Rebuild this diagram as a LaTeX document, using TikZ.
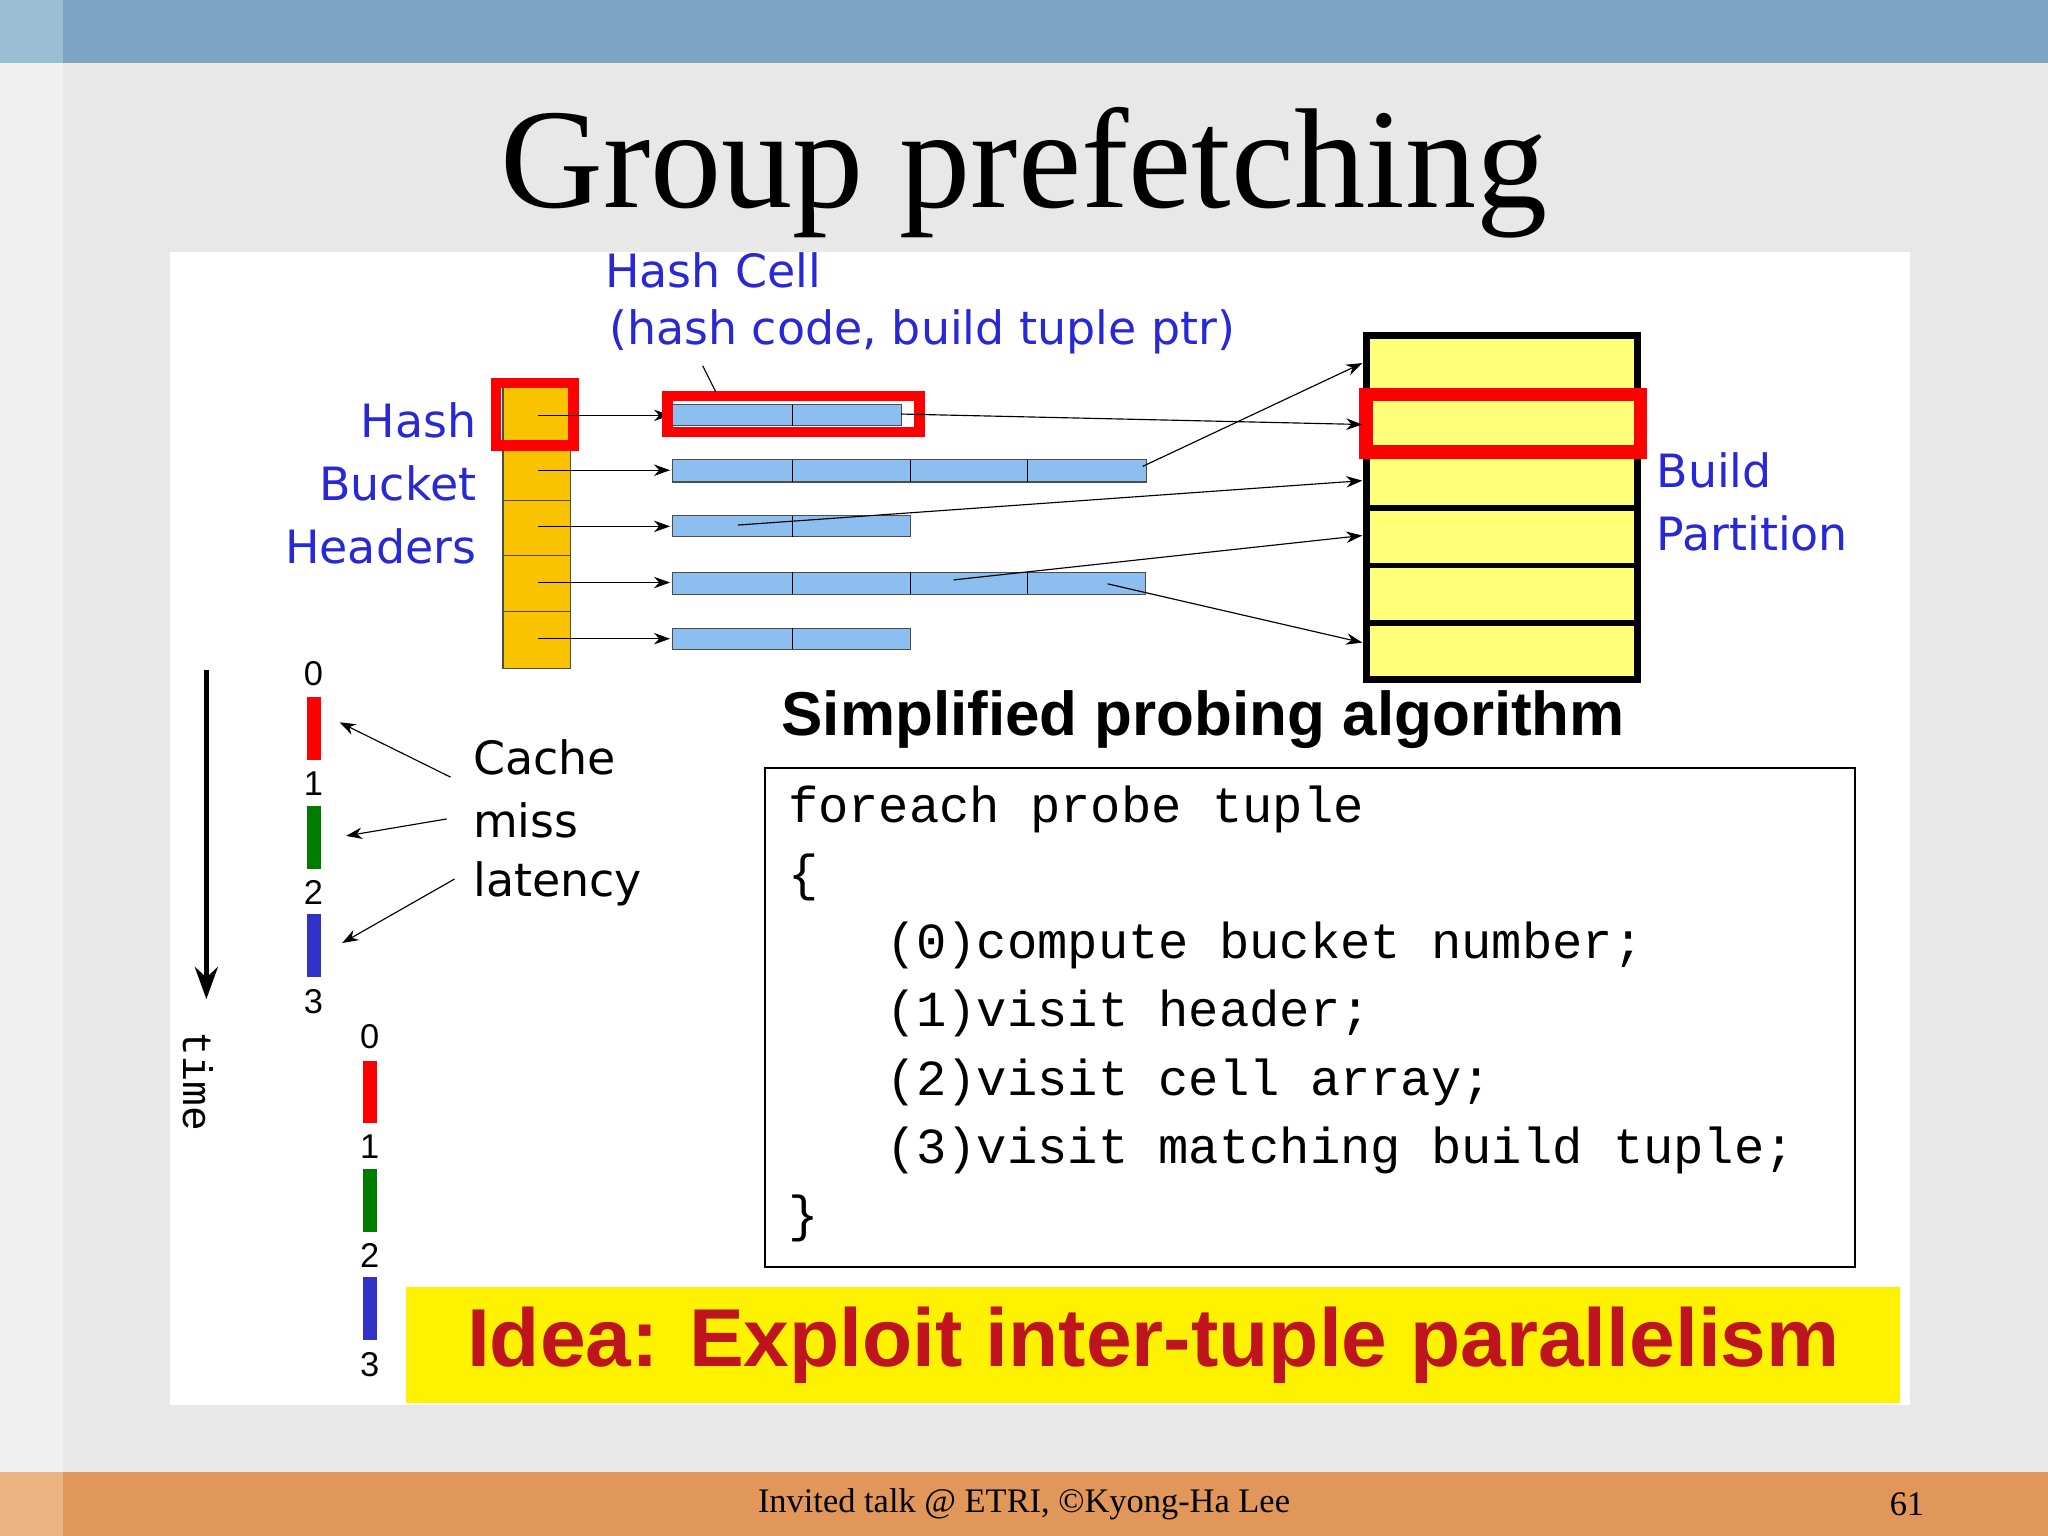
\documentclass[tikz,border=0pt]{standalone}
\usepackage{fontspec}
\setmainfont{Liberation Serif}
\newfontfamily\comic{DejaVu Sans}
\newfontfamily\arialf{Liberation Sans}
\newfontfamily\courf{Liberation Mono}
\usetikzlibrary{arrows.meta}
\definecolor{bluet}{RGB}{40,40,215}
\definecolor{cellb}{RGB}{140,190,240}
\definecolor{buck}{RGB}{250,195,0}
\definecolor{partc}{RGB}{255,255,120}
\definecolor{idear}{RGB}{190,20,30}
\definecolor{topb}{RGB}{125,165,195}
\definecolor{topl}{RGB}{155,190,212}
\definecolor{botb}{RGB}{225,150,90}
\definecolor{botl}{RGB}{235,180,130}
\definecolor{grn}{RGB}{0,125,0}
\definecolor{blu}{RGB}{50,50,200}
\tikzset{
  lbl/.style={font=\comic\fontsize{20}{24}\selectfont, text=bluet, inner sep=0},
  blk/.style={font=\comic\fontsize{20}{24}\selectfont, inner sep=0},
  cd/.style={font=\courf\fontsize{22}{24}\selectfont, anchor=west, inner sep=0},
  cellr/.style={fill=cellb, draw=black!70, line width=0.5pt},
  thin/.style={-{Stealth[length=7pt,width=5pt]}, line width=0.5pt},
  num/.style={font=\arialf\fontsize{15}{18}\selectfont, inner sep=0},
}
\begin{document}
\begin{tikzpicture}[x=0.02cm,y=-0.02cm]
\useasboundingbox (0,0) rectangle (1568,1176);
\fill[gray!18] (0,0) rectangle (1568,1176);
\fill[gray!12] (0,0) rectangle (48,1176);
\fill[topb] (0,0) rectangle (1568,48);
\fill[topl] (0,0) rectangle (48,48);
\fill[botb] (0,1127) rectangle (1568,1176);
\fill[botl] (0,1127) rectangle (48,1176);
\node[font=\fontsize{15}{18}\selectfont] (foot) at (784,1152) {Invited talk @ ETRI, ©Kyong-Ha Lee};
\node[font=\fontsize{15}{18}\selectfont] (pg) at (1460,1152) {61};
\fill[white] (130,193) rectangle (1462,1076);
\node[font=\fontsize{62}{70}\selectfont] (title) at (784,132) {Group prefetching};

% labels
\node[lbl] (hc) at (546,207) {Hash Cell};
\node[lbl] (hc2) at (706,254) {(hash code, build tuple ptr)};
\node[lbl, anchor=east] (h1) at (365,322) {Hash};
\node[lbl, anchor=east] (h2) at (365,370) {Bucket};
\node[lbl, anchor=east] (h3) at (365,418) {Headers};
\node[lbl, anchor=west] (b1) at (1268,360) {Build};
\node[lbl, anchor=west] (b2) at (1268,408) {Partition};

% bucket column
\node[draw=black!70, fill=buck, minimum width=52*0.02cm, minimum height=222*0.02cm, inner sep=0, line width=0.6pt] (bucket) at (411,401) {};
\foreach \y in {340,383,425,468} \draw[black!70, line width=0.5pt] (385,\y) -- (437,\y);
\draw[red, line width=4.5pt] (380,293) rectangle (439,341);
\foreach \y [count=\i] in {318,360,403,446,489} {
  \coordinate (s\i) at (412,\y);
  \coordinate (t\i) at (513,\y);
  \draw[thin] (s\i) -- (t\i);
}
% cells
\draw[cellr] (515,310) rectangle (690,326); \draw (607,310)--(607,326);
\draw[red, line width=4.5pt] (511,303) rectangle (704,331);
\draw[cellr] (515,352) rectangle (878,369); \foreach \x in {607,697,787} \draw (\x,352)--(\x,369);
\draw[cellr] (515,395) rectangle (697,411); \draw (607,395)--(607,411);
\draw[cellr] (515,438) rectangle (877,455); \foreach \x in {607,697,787} \draw (\x,438)--(\x,455);
\draw[cellr] (515,481) rectangle (697,497); \draw (607,481)--(607,497);
\draw[line width=0.5pt] (538,280) -- (548,300);

% partition
\node[draw, fill=partc, line width=3pt, minimum width=208*0.02cm, minimum height=263*0.02cm, inner sep=0] (part) at (1150,388.5) {};
\foreach \y in {345,389,433,477} \draw[line width=2.5pt] (1046,\y) -- (1254,\y);
\draw[red, line width=6pt] (1046,302) rectangle (1256,346);
\coordinate (p1) at (690,317); \coordinate (q1) at (1043,325);
\coordinate (p2) at (875,357); \coordinate (q2) at (1043,278);
\coordinate (p3) at (565,402); \coordinate (q3) at (1043,368);
\coordinate (p4) at (730,444); \coordinate (q4) at (1043,410);
\coordinate (p5) at (848,447); \coordinate (q5) at (1043,492);
\foreach \i in {1,...,5} \draw[thin] (p\i) -- (q\i);

% time
\coordinate (ta) at (158,513); \coordinate (tb) at (158,765);
\draw[line width=2.5pt, -{Stealth[length=14pt,width=10pt]}] (ta) -- (tb);
\node[font=\courf\fontsize{18}{20}\selectfont, rotate=-90, inner sep=0] (time) at (152,828) {time};
\foreach \xx/\yy in {240/516, 283/794} {
  \node[num] at (\xx,\yy) {0};
  \node[num] at (\xx,\yy+84) {1};
  \node[num] at (\xx,\yy+167) {2};
  \node[num] at (\xx,\yy+251) {3};
  \fill[red] (\xx-5,\yy+18) rectangle (\xx+6,\yy+66);
  \fill[grn] (\xx-5,\yy+101) rectangle (\xx+6,\yy+149);
  \fill[blu] (\xx-5,\yy+184) rectangle (\xx+6,\yy+232);
}
\node[blk, anchor=west] (c1) at (362,580) {Cache};
\node[blk, anchor=west] (c2) at (362,628) {miss};
\node[blk, anchor=west] (c3) at (362,677) {latency};
\coordinate (a1) at (345,595); \coordinate (e1) at (260,553);
\coordinate (a2) at (342,627); \coordinate (e2) at (265,640);
\coordinate (a3) at (348,673); \coordinate (e3) at (262,722);
\foreach \i in {1,2,3} \draw[thin] (a\i) -- (e\i);

% algorithm
\node[font=\arialf\bfseries\fontsize{27}{30}\selectfont, anchor=west, inner sep=0] (alg) at (598,551) {Simplified probing algorithm};
\draw[line width=0.8pt] (586,588) rectangle (1420,970);
\node[cd] at (603,620) {foreach probe tuple};
\node[cd] at (603,672) {\{};
\node[cd] at (678,724) {(0)compute bucket number;};
\node[cd] at (678,776) {(1)visit header;};
\node[cd] at (678,829) {(2)visit cell array;};
\node[cd] at (678,881) {(3)visit matching build tuple;};
\node[cd] at (603,933) {\}};

% idea
\fill[yellow] (311,985) rectangle (1455,1074);
\node[font=\arialf\bfseries\fontsize{35.8}{40}\selectfont, text=idear, inner sep=0] (idea) at (883,1030) {Idea: Exploit inter-tuple parallelism};
\end{tikzpicture}
\end{document}
